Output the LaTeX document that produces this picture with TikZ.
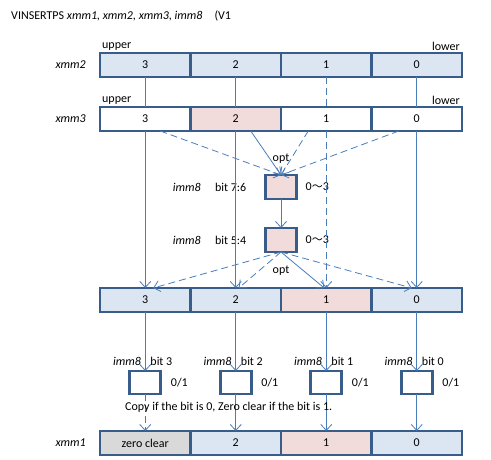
\documentclass[tikz,border=0pt]{standalone}
\usepackage{fontspec}
\setmainfont{Carlito}[Scale=1.2]
\newfontfamily\cjk{Noto Sans CJK JP}[Scale=1.1]
\usepackage{tikz}
\usetikzlibrary{arrows.meta,calc,positioning}
\definecolor{regline}{RGB}{56,93,138}
\definecolor{flowblue}{RGB}{74,126,187}
\definecolor{lblue}{RGB}{220,230,242}
\definecolor{lpink}{RGB}{242,220,219}
\definecolor{lgray}{RGB}{217,217,217}

\begin{document}
\begin{tikzpicture}[x=1pt,y=-1pt,
    cell/.style={draw=regline,line width=2.6pt,minimum width=90.5pt,minimum height=24pt,inner sep=0pt,outer sep=0pt},
    selbox/.style={draw=regline,line width=2.6pt,fill=lpink,minimum width=31pt,minimum height=24pt,inner sep=0pt,outer sep=0pt},
    bitbox/.style={selbox,fill=white,minimum height=23pt},
    link/.style={draw=flowblue,line width=0.8pt},
    arr/.style={link,-{Straight Barb[length=6pt,width=11pt]}},
    dsh/.style={dash pattern=on 7pt off 4pt}]
        \useasboundingbox (0,0) rectangle (491,460);
        % Title
        \node[anchor=west] (title) at (7,16) {VINSERTPS \textit{xmm1, xmm2, xmm3, imm8}\quad(V1};
        % Source registers
        \node[cell,fill=lblue] (a3) at (145.25,65) {3};
        \node[cell,fill=lblue,right=0pt of a3] (a2) {2};
        \node[cell,fill=lblue,right=0pt of a2] (a1) {1};
        \node[cell,fill=lblue,right=0pt of a1] (a0) {0};
        \node[cell,fill=white] (b3) at (145.25,119) {3};
        \node[cell,fill=lpink,right=0pt of b3] (b2) {2};
        \node[cell,fill=white,right=0pt of b2] (b1) {1};
        \node[cell,fill=white,right=0pt of b1] (b0) {0};
        \node[left=10pt of a3.west,font=\itshape] {xmm2};
        \node[left=10pt of b3.west,font=\itshape] {xmm3};
        \node[anchor=south west,inner sep=2pt] at (a3.north west) {upper};
        \node[anchor=south east,inner sep=2pt] at (a0.north east) {lower};
        \node[anchor=south west,inner sep=2pt] at (b3.north west) {upper};
        \node[anchor=south east,inner sep=2pt] at (b0.north east) {lower};
        % Selector boxes
        \node[selbox] (sel1) at (281,187) {};
        \node[selbox] (sel2) at (281,240) {};
        \node[left=15pt of sel1] (bitA) {bit 7:6};
        \node[left=6pt of bitA,font=\itshape] {imm8};
        \node[right=5pt of sel1] {0{\cjk 〜}3};
        \node[left=15pt of sel2] (bitB) {bit 5:4};
        \node[left=6pt of bitB,font=\itshape] {imm8};
        \node[right=5pt of sel2] {0{\cjk 〜}3};
        \node at ($(sel1.north)+(0,-16)$) {opt};
        \node at ($(sel2.south)+(0,19)$) {opt};
        % Inserted result
        \node[cell,fill=lblue] (r3) at (145.25,300) {3};
        \node[cell,fill=lblue,right=0pt of r3] (r2) {2};
        \node[cell,fill=lpink,right=0pt of r2] (r1) {1};
        \node[cell,fill=lblue,right=0pt of r1] (r0) {0};
        % Zero mask bits
        \foreach \i in {3,2,1,0} {
            \node[bitbox,below=59pt of r\i] (z\i) {};
            \node[anchor=east,inner sep=0pt,font=\itshape] at ($(z\i.north)+(-4,-10)$) {imm8};
            \node[anchor=west,inner sep=0pt] at ($(z\i.north)+(5,-10)$) {bit \i};
            \node[right=6pt of z\i] {0/1};
        }
        % Destination
        \node[cell,fill=lgray] (d3) at (145.25,443) {zero clear};
        \node[cell,fill=lblue,right=0pt of d3] (d2) {2};
        \node[cell,fill=lpink,right=0pt of d2] (d1) {1};
        \node[cell,fill=lblue,right=0pt of d1] (d0) {0};
        \node[left=10pt of d3.west,font=\itshape] {xmm1};
        % Straight paths
        \foreach \i in {3,2,0} {
            \draw[link] (a\i) -- (b\i);
            \draw[arr] (b\i) -- (r\i);
        }
        \draw[link,dsh] (a1) -- (b1);
        \draw[arr,dsh] (b1) -- (r1);
        % Element select
        \draw[arr,dsh] ($(b3.south)+(15,0)$) -- (sel1.north);
        \draw[arr] ($(b2.south)+(15,0)$) -- (sel1.north);
        \draw[arr,dsh] ($(b1.south)+(-18,0)$) -- (sel1.north);
        \draw[arr,dsh] ($(b0.south)+(-18,0)$) -- (sel1.north);
        \draw[arr] (sel1) -- (sel2);
        \draw[arr,dsh] (sel2.south) -- ($(r3.north)+(8,0)$);
        \draw[arr,dsh] (sel2.south) -- ($(r2.north)+(3,0)$);
        \draw[arr] (sel2.south) -- ($(r1.north)+(-2,0)$);
        \draw[arr,dsh] (sel2.south) -- ($(r0.north)+(-5,0)$);
        % Zero mask
        \foreach \i in {3,2,1,0} \draw[arr] (r\i) -- (z\i);
        \draw[arr,dsh] (z3) -- (d3);
        \foreach \i in {2,1,0} \draw[arr] (z\i) -- (d\i);
        \node[anchor=west] (note) at (121,407) {Copy if the bit is 0, Zero clear if the bit is 1.};
\end{tikzpicture}
\end{document}
